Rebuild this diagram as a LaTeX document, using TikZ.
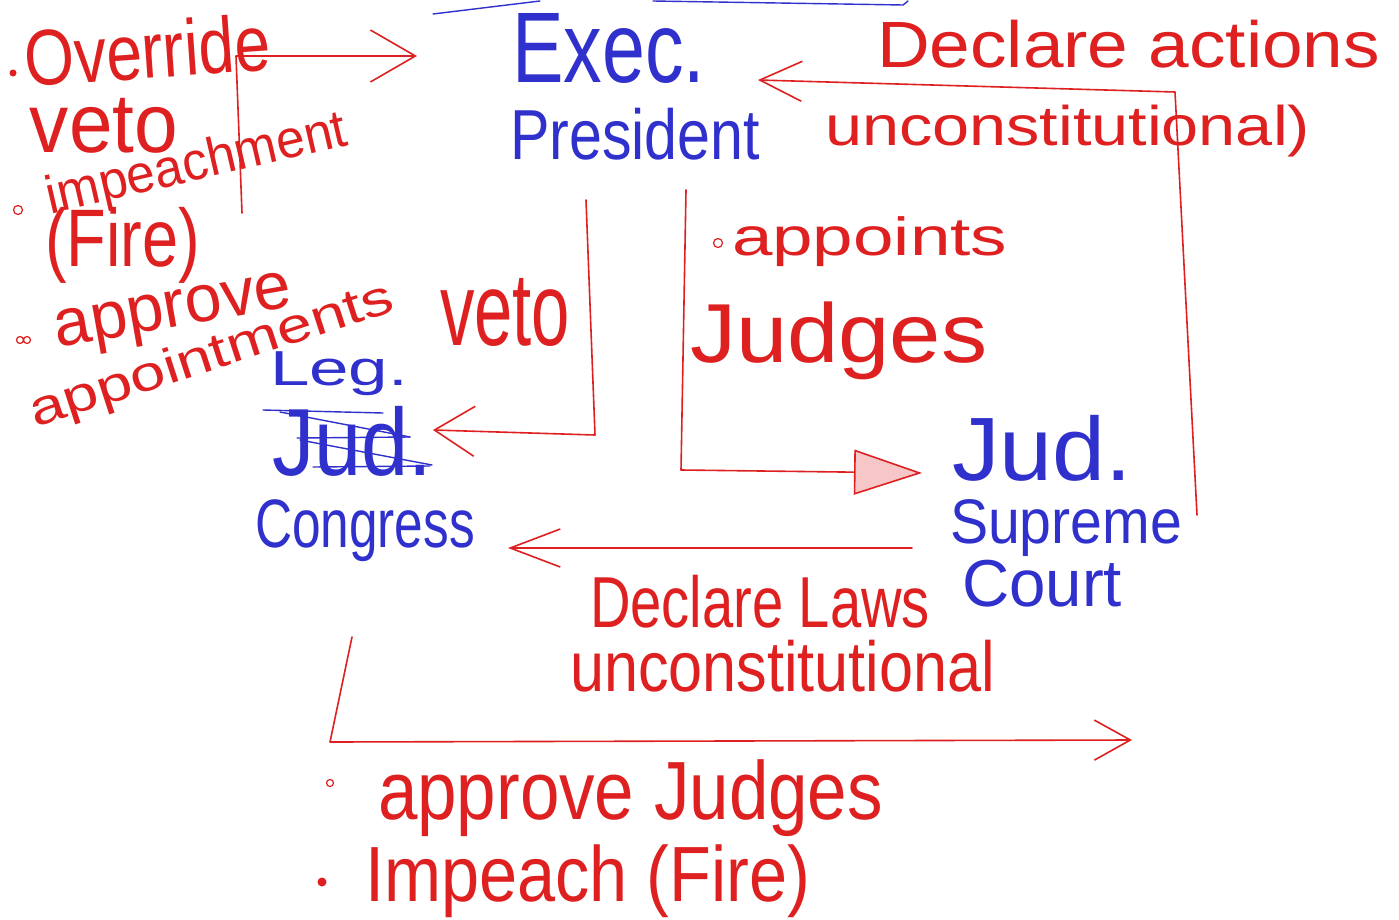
\documentclass[tikz,border=0pt]{standalone}
\usepackage{fontspec}
\setmainfont{Liberation Sans}
\usetikzlibrary{arrows.meta}
\definecolor{inkred}{RGB}{222,32,32}
\definecolor{inkblue}{RGB}{48,48,205}
\newcommand{\fitto}[3]{\resizebox*{#1}{#2}{#3}}
\begin{document}
\begin{tikzpicture}[x=1pt,y=-1pt,
  lbl/.style={inner sep=0pt,outer sep=0pt,anchor=north west},
  redtxt/.style={lbl,text=inkred},
  bluetxt/.style={lbl,text=inkblue},
  rotred/.style={inner sep=0pt,outer sep=0pt,text=inkred,anchor=center},
  redline/.style={draw=inkred,line width=1.6pt,line join=round,line cap=round},
  blueline/.style={draw=inkblue,line width=1.4pt,line cap=round},
  barbtip/.style 2 args={-{Straight Barb[length=#1,width=#2]}}]
\fill[white] (0,0) rectangle (1399,920);
\useasboundingbox (0,0) rectangle (1399,920);

% blue branch names
\node[bluetxt] (exec) at (512,13) {\fitto{193pt}{70pt}{Exec.}};
\node[bluetxt] (pres) at (510,108) {\fitto{250pt}{52pt}{President}};
\node[bluetxt] (leg) at (270,352) {\fitto{138pt}{44pt}{Leg.}};
\node[bluetxt] (judx) at (272,406) {\fitto{160pt}{70pt}{Jud.}};
\node[bluetxt] (congress) at (255,500) {\fitto{220pt}{62pt}{Congress}};
\node[bluetxt] (jud) at (952,415) {\fitto{180pt}{66pt}{Jud.}};
\node[bluetxt] (supreme) at (950,500) {\fitto{232pt}{57pt}{Supreme}};
\node[bluetxt] (court) at (962,560) {\fitto{160pt}{47pt}{Court}};

% strike-out over the crossed Jud.
\draw[blueline] (263,410) -- (383,413);
\draw[blueline] (280,412) -- (410,437);
\draw[blueline] (297,438) -- (410,437);
\draw[blueline] (300,440) -- (432,465);
\draw[blueline] (313,467) -- (430,466);
% top blue stroke
\draw[blueline] (433,14) -- (540,1);
\draw[blueline] (653,1) -- (903,5) -- (908,1);

% red labels
\node[rotred,rotate=4] (override) at (147,50) {\fitto{246pt}{58pt}{Override}};
\node[redtxt] (vetoL) at (30,98) {\fitto{148pt}{55pt}{veto}};
\node[rotred,rotate=13] (impeach) at (197,166) {\fitto{307pt}{50pt}{impeachment}};
\node[redtxt] (fireL) at (45,207) {\fitto{155pt}{76pt}{(Fire)}};
\node[rotred,rotate=10] (approveL) at (174,316) {\fitto{240pt}{50pt}{approve}};
\node[rotred,rotate=18] (appointL) at (212,357) {\fitto{380pt}{46pt}{appointments}};
\node[redtxt] (vetoM) at (440,278) {\fitto{130pt}{68pt}{veto}};
\node[redtxt] (appoints) at (732,217) {\fitto{275pt}{50pt}{appoints}};
\node[redtxt] (judgesT) at (690,302) {\fitto{297pt}{78pt}{Judges}};
\node[redtxt] (declA) at (877,20) {\fitto{503pt}{48pt}{Declare actions}};
\node[redtxt] (unconA) at (825,105) {\fitto{485pt}{52pt}{unconstitutional)}};
\node[redtxt] (declL) at (590,575) {\fitto{340pt}{53pt}{Declare Laws}};
\node[redtxt] (unconL) at (570,640) {\fitto{425pt}{52pt}{unconstitutional}};
\node[redtxt] (apprJ) at (378,760) {\fitto{505pt}{77pt}{approve Judges}};
\node[redtxt] (impF) at (365,845) {\fitto{445pt}{73pt}{Impeach (Fire)}};

% bullets
\fill[inkred] (13,73) circle (3.5);
\draw[inkred,line width=1.2pt] (18,210) circle (4.5);
\draw[inkred,line width=1.2pt] (20,340) circle (3.5) (27,340) circle (3.5);
\draw[inkred,line width=1.2pt] (718,243) circle (4.5);
\draw[inkred,line width=1.2pt] (330,783) circle (3.5);
\fill[inkred] (322,882) circle (4.5);

% connector corners and ends
\coordinate (a1s) at (242,213); \coordinate (a1b) at (236,56); \coordinate (a1e) at (417,56);
\coordinate (a2s) at (586,200); \coordinate (a2b) at (595,435); \coordinate (a2e) at (433,430);
\coordinate (a3s) at (686,190); \coordinate (a3b) at (681,470); \coordinate (a3e) at (922,473);
\coordinate (a4s) at (1197,515); \coordinate (a4b) at (1175,92); \coordinate (a4e) at (758,80);
\coordinate (a5s) at (912,548); \coordinate (a5e) at (508,548);
\coordinate (a6s) at (352,637); \coordinate (a6b) at (330,742); \coordinate (a6e) at (1132,740);

% connectors
\draw[redline,barbtip={45pt}{52pt}] (a1s) -- (a1b) -- (a1e);
\draw[redline,barbtip={40pt}{50pt}] (a2s) -- (a2b) -- (a2e);
\draw[redline,-{Triangle[length=68pt,width=45pt,fill=inkred!25]}] (a3s) -- (a3b) -- (a3e);
\draw[redline,barbtip={42pt}{40pt}] (a4s) -- (a4b) -- (a4e);
\draw[redline,barbtip={50pt}{38pt}] (a5s) -- (a5e);
\draw[redline,barbtip={36pt}{40pt}] (a6s) -- (a6b) -- (a6e);
\end{tikzpicture}
\end{document}
